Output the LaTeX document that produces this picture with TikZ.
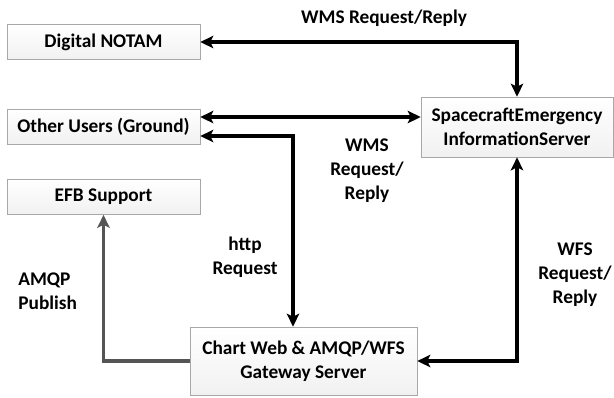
\documentclass[tikz,border=0pt]{standalone}
\usepackage{fontspec}
\setmainfont{Carlito}
\usetikzlibrary{calc,positioning,arrows.meta}

\definecolor{boxline}{HTML}{A8A8A8}
\definecolor{boxfill}{HTML}{F1F1F1}
\definecolor{pubgray}{HTML}{555555}

\begin{document}
\begin{tikzpicture}[
    x=0.02cm, y=-0.02cm,
    font=\fontsize{11}{13.6}\selectfont\bfseries,
    infobox/.style={draw=boxline,top color=white,bottom color=boxfill,inner sep=0pt,minimum width=3.86cm,minimum height=0.7cm},
    serverbox/.style={infobox,align=center},
    flowline/.style={line width=2.2pt,{Stealth[length=0.26cm,width=0.25cm,inset=0.06cm]}-{Stealth[length=0.26cm,width=0.25cm,inset=0.06cm]}},
    publine/.style={line width=2.2pt,draw=pubgray,-{Stealth[length=0.26cm,width=0.25cm,inset=0.06cm]}},
    flowlabel/.style={align=center,inner sep=0pt}
    ]
    \useasboundingbox (0,0) rectangle (614,397);

    % left column
    \node(notam) [infobox] at (103.5,42) {Digital NOTAM};
    \node(users) [infobox] at (103.5,126.5) {Other Users (Ground)};
    \node(efb) [infobox] at (103.5,197) {EFB Support};

    % servers
    \node(secs) [serverbox,minimum width=3.84cm,minimum height=1.2cm] at (517,127) {SpacecraftEmergency\\InformationServer};
    \node(gateway) [serverbox,minimum width=4.54cm,minimum height=1.36cm] at (303.5,361) {Chart Web \& AMQP/WFS\\Gateway Server};

    % connectors
    \draw[flowline] (notam.east) -| (secs.north);
    \draw[flowline] ([yshift=0.19cm]users.east) -- ([yshift=0.19cm]users.east -| secs.west);
    \draw[flowline] ([yshift=-0.19cm]users.east) -| ([xshift=-0.21cm]gateway.north);
    \draw[flowline] (secs.south) |- (gateway.east);
    \draw[publine] (gateway.west) -| (efb.south);

    % labels
    \node(wms_top) [flowlabel] at (384,18) {WMS Request/Reply};
    \node(wms_mid) [flowlabel] at (367,171) {WMS\\Request/\\Reply};
    \node(http_req) [flowlabel] at (245,257) {http\\Request};
    \node(wfs_req) [flowlabel] at (575,275) {WFS\\Request/\\Reply};
    \node(amqp_pub) [flowlabel,align=left,anchor=west] at (18,291) {AMQP\\Publish};
\end{tikzpicture}
\end{document}
